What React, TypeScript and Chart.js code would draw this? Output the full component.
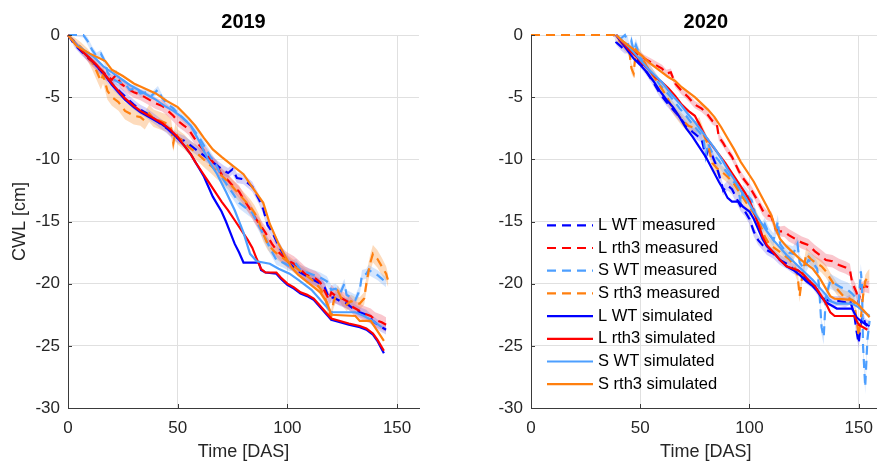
import React, { useEffect, useRef } from 'react';
import { Chart, registerables } from 'chart.js';

Chart.register(...registerables);

type Meas = [number, number, number][];
type Sim = [number, number][];

// ---------- axis ticks / labels ----------
const X_TICKS = [0, 50, 100, 150];
const Y_TICKS = [0, -5, -10, -15, -20, -25, -30];
const PANEL_TITLES = ['2019', '2020'];
const X_TITLE = 'Time [DAS]';
const Y_TITLE = 'CWL [cm]';
const LEGEND_LABELS = [
  'L WT measured',
  'L rth3 measured',
  'S WT measured',
  'S rth3 measured',
  'L WT simulated',
  'L rth3 simulated',
  'S WT simulated',
  'S rth3 simulated',
];

// ---------- 2019 measured: [DAS, CWL, SE] ----------
const LWT_MEAS_2019: Meas = [
  [0, 0, 0.05], [3, -0.8, 0.2], [6, -1.3, 0.3], [9, -1.8, 0.3], [12, -2.3, 0.3], [15, -2.9, 0.35], [18, -3.5, 0.35],
  [21, -4.1, 0.4], [24, -4.6, 0.4], [27, -5.1, 0.4], [30, -5.6, 0.4], [33, -6, 0.4], [36, -6.3, 0.4], [39, -6.7, 0.4],
  [42, -7.1, 0.4], [45, -7.5, 0.4], [48, -8, 0.4], [50, -8.3, 0.4], [53, -8.5, 0.4], [56, -8.9, 0.4], [59, -9.3, 0.4],
  [62, -9.7, 0.4], [65, -10.1, 0.4], [68, -10.5, 0.4], [71, -10.9, 0.4], [73, -11.1, 0.4], [75, -10.8, 0.4],
  [77, -11.5, 0.4], [80, -11.6, 0.4], [84, -12.2, 0.4], [87, -13.2, 0.4], [89, -14, 0.4], [91, -15.3, 0.4],
  [93, -15.8, 0.4], [95, -16.6, 0.4], [98, -17.6, 0.4], [100, -18.2, 0.4], [103, -18.7, 0.4], [106, -19.1, 0.4],
  [109, -19.4, 0.4], [112, -19.7, 0.4], [115, -20, 0.4], [117, -20.3, 0.4], [119, -21.2, 0.4], [121, -21.1, 0.4],
  [124, -21.4, 0.4], [127, -21.6, 0.4], [130, -22, 0.4], [133, -22.3, 0.4], [136, -22.5, 0.4], [139, -23, 0.4],
  [142, -23.4, 0.4], [145, -23.7, 0.4],
];
const LR3_MEAS_2019: Meas = [
  [0, 0, 0.05], [3, -0.6, 0.2], [6, -1.2, 0.3], [10, -2, 0.35], [13, -2.5, 0.4], [15, -2.8, 0.4], [18, -3.3, 0.4],
  [20, -3.6, 0.4], [22, -3.2, 0.4], [24, -3.9, 0.4], [27, -4.3, 0.4], [30, -4.6, 0.45], [33, -4.8, 0.45],
  [35, -5, 0.45], [38, -5.3, 0.45], [40, -5.5, 0.45], [43, -5.7, 0.45], [45, -6, 0.45], [48, -6.5, 0.45],
  [50, -6.9, 0.45], [53, -7.3, 0.45], [55, -7.6, 0.45], [58, -8.4, 0.45], [60, -8.9, 0.45], [63, -9.5, 0.45],
  [65, -10, 0.45], [68, -10.6, 0.45], [70, -11.2, 0.45], [73, -11.7, 0.45], [75, -12.1, 0.45], [78, -12.6, 0.5],
  [80, -13.2, 0.5], [83, -14, 0.5], [85, -14.6, 0.5], [88, -15.4, 0.5], [90, -15.9, 0.5], [93, -16.8, 0.5],
  [95, -17.3, 0.55], [98, -17.8, 0.6], [100, -18.1, 0.6], [103, -18.4, 0.6], [105, -18.7, 0.6], [108, -19.2, 0.6],
  [110, -19.4, 0.6], [113, -19.6, 0.6], [115, -19.9, 0.6], [117, -20.6, 0.6], [119, -21.3, 0.6], [120, -20.7, 0.6],
  [122, -21, 0.6], [125, -21.2, 0.6], [128, -21.5, 0.6], [130, -21.9, 0.6], [133, -22.2, 0.6], [135, -22.4, 0.6],
  [138, -22.6, 0.6], [140, -22.9, 0.6], [143, -23.1, 0.6], [145, -23.3, 0.6],
];
const SWT_MEAS_2019: Meas = [
  [0, 0, 0.05], [3, 0, 0.1], [7, 0, 0.2], [9, -0.5, 0.3], [11, -1.2, 0.3], [13, -1.7, 0.3], [15, -1.5, 0.3],
  [17, -2.2, 0.3], [18, -3, 0.3], [20, -3.5, 0.3], [23, -3.8, 0.3], [26, -3.9, 0.3], [28, -4.4, 0.3],
  [31, -4.3, 0.3], [33, -4.7, 0.3], [36, -4.6, 0.3], [38, -4.9, 0.3], [41, -4.4, 0.3], [43, -5.1, 0.3],
  [45, -5.5, 0.3], [48, -5.9, 0.3], [50, -6.3, 0.3], [53, -6.8, 0.3], [55, -7.1, 0.3], [58, -7.8, 0.35],
  [60, -8.3, 0.35], [63, -9.2, 0.4], [65, -9.8, 0.4], [68, -10.6, 0.4], [70, -11.4, 0.4], [73, -12.2, 0.45],
  [75, -12.7, 0.45], [78, -13.5, 0.45], [81, -13.9, 0.45], [84, -14.3, 0.45], [86, -15, 0.45], [89, -16, 0.45],
  [92, -17.1, 0.45], [95, -18.1, 0.4], [98, -18.3, 0.4], [101, -18.6, 0.4], [104, -18.4, 0.4], [106, -18.9, 0.4],
  [109, -19.1, 0.4], [112, -19.3, 0.4], [115, -19.5, 0.4], [118, -19.8, 0.4], [120, -20.5, 0.4], [122, -20.4, 0.4],
  [124, -20.8, 0.4], [126, -20, 0.4], [127, -20.9, 0.4], [129, -21.1, 0.4], [131, -21.3, 0.4], [133, -20.5, 0.4],
  [134, -19.3, 0.4], [136, -19.2, 0.4], [137, -18.9, 0.4], [139, -19.1, 0.4], [141, -19.3, 0.4], [143, -19.6, 0.4],
  [145, -19.9, 0.4],
];
const SR3_MEAS_2019: Meas = [
  [0, 0, 0.05], [3, -0.5, 0.3], [6, -1, 0.4], [9, -1.6, 0.5], [11, -2.2, 0.6], [13, -2.9, 0.7], [15, -3.7, 0.7],
  [16, -3.2, 0.7], [18, -4.5, 0.7], [20, -5, 0.7], [23, -5.4, 0.7], [26, -6.1, 0.7], [28, -6.3, 0.7],
  [30, -6.5, 0.7], [33, -6.6, 0.7], [35, -6.9, 0.7], [37, -6.3, 0.7], [39, -6.7, 0.7], [42, -6.9, 0.7],
  [45, -7.1, 0.7], [47, -7.5, 0.7], [48, -8.7, 0.7], [49, -7.8, 0.7], [50, -8.2, 0.6], [53, -8.6, 0.6],
  [55, -9, 0.6], [58, -9.4, 0.6], [60, -9.7, 0.6], [63, -10.2, 0.6], [65, -10.5, 0.6], [68, -11, 0.6],
  [70, -11.3, 0.6], [73, -11.8, 0.6], [75, -12.2, 0.6], [78, -12.8, 0.6], [80, -13.2, 0.6], [83, -13.8, 0.6],
  [85, -14.3, 0.6], [87, -15, 0.6], [89, -16, 0.6], [91, -16.8, 0.5], [94, -17.4, 0.5], [97, -17.8, 0.5],
  [100, -18.2, 0.5], [103, -18.6, 0.5], [106, -19, 0.5], [109, -19.4, 0.5], [112, -19.8, 0.5], [115, -20.4, 0.5],
  [117, -21, 0.5], [119, -22.3, 0.5], [120, -22.6, 0.5], [121, -21.5, 0.5], [123, -20.6, 0.5], [125, -21.3, 0.5],
  [127, -21.7, 0.5], [129, -21.4, 0.5], [131, -21.6, 0.5], [133, -21.6, 0.5], [135, -21.2, 0.5], [136, -20, 0.6],
  [137, -19, 0.7], [138, -18.2, 0.7], [139, -17.6, 0.7], [141, -18, 0.7], [143, -18.6, 0.7], [145, -19.2, 0.6],
  [146, -19.8, 0.5],
];

// ---------- 2019 simulated: [DAS, CWL] ----------
const LWT_SIM_2019: Sim = [
  [0, 0], [3, -0.6], [6, -1.2], [10, -1.9], [13, -2.5], [16, -3], [20, -4], [23, -4.6], [26, -5.2], [30, -5.8],
  [33, -6.2], [36, -6.5], [40, -6.9], [43, -7.2], [46, -7.6], [50, -8.3], [53, -8.9], [56, -9.6], [58, -10.2],
  [60, -10.8], [62, -11.4], [64, -12.2], [66, -13], [68, -13.6], [70, -14.2], [72, -15], [74, -15.9], [76, -16.8],
  [78, -17.5], [80, -18.3], [87, -18.3], [88, -18.9], [90, -19.1], [95, -19.2], [97, -19.6], [100, -20.1],
  [103, -20.4], [106, -20.8], [109, -21], [112, -21.3], [114, -21.7], [116, -22.1], [118, -22.5], [120, -22.9],
  [124, -23.1], [128, -23.3], [133, -23.5], [136, -23.7], [139, -24.1], [141, -24.6], [144, -25.6],
];
const LR3_SIM_2019: Sim = [
  [0, 0], [3, -0.6], [6, -1.2], [10, -1.9], [13, -2.4], [16, -3], [20, -3.9], [23, -4.5], [26, -5.1], [30, -5.7],
  [33, -6.1], [36, -6.4], [40, -6.8], [43, -7.1], [46, -7.5], [50, -8.2], [53, -8.9], [56, -9.6], [58, -10.2],
  [61, -11], [64, -11.8], [67, -12.6], [70, -13.4], [73, -14.1], [76, -14.9], [79, -15.7], [82, -16.5],
  [84, -17.1], [86, -18], [88, -18.8], [90, -19.1], [95, -19.1], [97, -19.5], [100, -20], [103, -20.3],
  [106, -20.7], [109, -20.9], [112, -21.2], [114, -21.6], [116, -22], [118, -22.4], [120, -22.8], [124, -23],
  [128, -23.2], [133, -23.4], [136, -23.6], [139, -24], [141, -24.5], [144, -25.4],
];
const SWT_SIM_2019: Sim = [
  [0, 0], [4, -0.8], [8, -1.3], [12, -1.8], [16, -2.5], [20, -3], [24, -3.5], [28, -4], [32, -4.4], [36, -4.8],
  [40, -5.2], [44, -5.7], [48, -6.1], [52, -6.6], [56, -7.3], [60, -8.6], [64, -10.1], [68, -11.2], [72, -12.6],
  [76, -14.1], [80, -15.9], [83, -17.6], [86, -18.2], [92, -18.4], [96, -18.8], [101, -19.2], [105, -19.7],
  [111, -20.5], [116, -21.5], [120, -22.3], [131, -22.3], [135, -22.6], [139, -23], [143, -23.5],
];
const SR3_SIM_2019: Sim = [
  [0, 0], [4, -0.9], [10, -1.5], [17, -2.1], [20, -2.8], [25, -3.3], [30, -3.9], [35, -4.3], [40, -4.7],
  [45, -5.3], [50, -5.8], [55, -6.7], [58, -7.3], [62, -8.3], [66, -9.2], [70, -9.8], [75, -10.5], [80, -11.2],
  [85, -12.5], [89, -13.5], [92, -15.2], [96, -16.8], [99, -17.8], [102, -18.7], [105, -19.3], [110, -20],
  [115, -20.7], [118, -21.5], [120, -22.5], [131, -22.6], [133, -23], [138, -23], [141, -23.8], [144, -24.6],
];

// ---------- 2020 measured: [DAS, CWL, SE] ----------
const LWT_MEAS_2020: Meas = [
  [0, 0, 0], [38, 0, 0], [39, -0.6, 0.2], [41, -0.9, 0.3], [43, -1.2, 0.3], [45, -1.1, 0.3], [47, -1.5, 0.3],
  [50, -2.3, 0.3], [53, -3, 0.3], [56, -3.8, 0.3], [59, -4.7, 0.3], [62, -5.4, 0.3], [65, -6, 0.3],
  [68, -6.6, 0.35], [71, -7.3, 0.35], [74, -7.8, 0.35], [76, -8.1, 0.35], [78, -8.3, 0.35], [80, -9.8, 0.4],
  [81, -9.3, 0.4], [83, -9.7, 0.4], [85, -10.6, 0.4], [87, -11.8, 0.4], [88, -12.5, 0.4], [90, -12.1, 0.4],
  [92, -12.4, 0.4], [94, -13.1, 0.4], [96, -13.8, 0.4], [98, -14.2, 0.4], [100, -14.8, 0.4], [102, -15.8, 0.4],
  [104, -16.5, 0.4], [106, -16.9, 0.4], [108, -17.3, 0.4], [111, -17.6, 0.4], [114, -18.1, 0.4],
  [117, -18.4, 0.4], [120, -18.8, 0.4], [123, -19, 0.4], [126, -19.6, 0.4], [129, -20, 0.4], [131, -20.5, 0.4],
  [133, -21.1, 0.4], [135, -21.3, 0.4], [138, -21.4, 0.4], [141, -21.4, 0.4], [144, -21.5, 0.4],
  [146, -21.3, 0.4], [148, -22.5, 0.4], [149, -23.8, 0.4], [150, -24.8, 0.4], [151, -23.2, 0.4],
  [152, -22.6, 0.4], [153, -23.2, 0.4], [155, -23.4, 0.4],
];
const LR3_MEAS_2020: Meas = [
  [0, 0, 0], [38, 0, 0], [40, -0.3, 0.2], [43, -0.8, 0.3], [46, -1.2, 0.3], [49, -1.6, 0.3], [52, -1.9, 0.3],
  [55, -2.2, 0.3], [58, -2.5, 0.3], [60, -2.7, 0.3], [62, -3.1, 0.3], [64, -3, 0.3], [66, -3.9, 0.3],
  [69, -4.5, 0.3], [72, -5, 0.3], [75, -5.6, 0.3], [78, -5.9, 0.3], [80, -6.2, 0.3], [83, -6.9, 0.3],
  [85, -7.1, 0.3], [86, -8.2, 0.3], [88, -8.7, 0.3], [90, -9.3, 0.3], [92, -9.8, 0.3], [95, -10.9, 0.3],
  [97, -11.5, 0.3], [100, -12.2, 0.3], [103, -13.1, 0.35], [106, -14.1, 0.4], [108, -14.5, 0.4],
  [110, -14.6, 0.4], [112, -15.6, 0.4], [114, -15.8, 0.4], [116, -15.8, 0.45], [118, -16.1, 0.5],
  [121, -16.4, 0.5], [124, -16.7, 0.5], [127, -16.9, 0.5], [130, -17.4, 0.5], [133, -17.8, 0.5],
  [135, -18.1, 0.5], [138, -18.2, 0.5], [141, -18.5, 0.5], [144, -18.7, 0.5], [146, -18.9, 0.5],
  [147, -19.9, 0.5], [149, -20.7, 0.5], [150, -21.5, 0.5], [151, -20.4, 0.5], [153, -20.2, 0.5],
  [155, -20.3, 0.5],
];
const SWT_MEAS_2020: Meas = [
  [0, 0, 0], [38, 0, 0], [41, -0.3, 0.3], [43, 0, 0.4], [44, -0.4, 0.5], [45, -1.2, 0.5], [46, -0.5, 0.5],
  [47, -1.3, 0.5], [48, -0.8, 0.5], [50, -1.8, 0.5], [53, -2.6, 0.5], [56, -3.3, 0.5], [59, -4, 0.5],
  [62, -4.6, 0.5], [65, -5.2, 0.5], [68, -5.9, 0.5], [71, -6.5, 0.5], [74, -7.2, 0.5], [77, -7.8, 0.5],
  [79, -8.3, 0.5], [80, -9.7, 0.5], [81, -8.7, 0.5], [83, -9.5, 0.5], [86, -10.1, 0.5], [89, -10.9, 0.5],
  [92, -11.6, 0.5], [95, -12.4, 0.5], [96, -13.6, 0.5], [97, -12.5, 0.5], [99, -12.9, 0.5], [101, -13.3, 0.5],
  [103, -14.6, 0.5], [105, -15.8, 0.5], [107, -15.2, 0.5], [109, -16, 0.5], [111, -16.5, 0.55],
  [113, -15, 0.55], [114, -16.8, 0.55], [116, -17.3, 0.6], [118, -17.5, 0.6], [120, -17.6, 0.6],
  [122, -16.8, 0.6], [123, -18.3, 0.6], [125, -18.8, 0.6], [127, -18.1, 0.6], [129, -18.3, 0.6],
  [131, -18.8, 0.6], [132, -20.5, 0.6], [133, -23.5, 0.6], [134, -24.3, 0.6], [135, -21, 0.6],
  [137, -19.8, 0.6], [139, -20, 0.6], [142, -20.3, 0.6], [145, -20.5, 0.6], [147, -20.8, 0.6],
  [149, -21.2, 0.6], [150, -21.5, 0.6], [151, -19, 0.6], [151.5, -20, 0.6], [152, -25, 0.6], [153, -28.3, 0.6],
  [154, -24.5, 0.6], [155, -23, 0.6],
];
const SR3_MEAS_2020: Meas = [
  [0, 0, 0], [38, 0, 0], [40, -0.4, 0.3], [43, -0.9, 0.4], [45, -1.3, 0.4], [46, -2.7, 0.4], [47, -3.1, 0.4],
  [48, -1.2, 0.4], [50, -1.6, 0.4], [53, -2.5, 0.5], [56, -3.3, 0.5], [59, -4.1, 0.5], [62, -4.9, 0.5],
  [64, -5.6, 0.5], [66, -6.1, 0.5], [69, -6.8, 0.5], [72, -7.3, 0.5], [75, -7.5, 0.5], [77, -7.1, 0.5],
  [79, -8, 0.5], [81, -8.8, 0.5], [83, -10.3, 0.5], [85, -10.7, 0.5], [88, -11.1, 0.5], [90, -11.4, 0.5],
  [93, -12, 0.5], [96, -12.8, 0.5], [99, -13.6, 0.5], [101, -14.1, 0.5], [103, -14.6, 0.5], [105, -15.3, 0.5],
  [107, -16.2, 0.5], [109, -16.8, 0.5], [112, -17.2, 0.5], [115, -17.6, 0.5], [118, -18, 0.5],
  [120, -18.4, 0.5], [122, -19.3, 0.5], [123, -21, 0.5], [124, -19.6, 0.5], [125, -18.6, 0.5],
  [126, -17.6, 0.5], [128, -18, 0.5], [130, -18.3, 0.5], [133, -18.6, 0.5], [135, -19, 0.5], [137, -19.6, 0.5],
  [140, -20.4, 0.5], [143, -21, 0.5], [146, -21.2, 0.5], [148, -21.5, 0.5], [150, -24.2, 0.5],
  [151, -22.8, 0.5], [152, -21, 0.5], [153, -19.8, 0.5], [154, -19.5, 0.5], [155, -19.3, 0.5],
];

// ---------- 2020 simulated: [DAS, CWL] ----------
const LWT_SIM_2020: Sim = [
  [39, 0], [41, -0.5], [44, -1.2], [47, -1.9], [50, -2.4], [53, -3], [56, -3.7], [59, -4.5], [62, -5.2],
  [65, -5.8], [68, -6.6], [71, -7.5], [74, -8.2], [77, -9], [80, -9.8], [83, -10.8], [86, -11.8], [88, -12.4],
  [90, -13.1], [92, -13.4], [95, -13.4], [97, -13.8], [100, -14.2], [102, -14.8], [104, -15.6], [106, -16.4],
  [108, -17], [111, -17.5], [114, -18.1], [117, -18.6], [120, -18.9], [123, -19.3], [126, -19.8], [129, -20.2],
  [131, -20.6], [133, -21.1], [135, -21.5], [138, -21.8], [140, -22], [147, -22], [149, -22.7], [151, -23],
  [154, -23.4],
];
const LR3_SIM_2020: Sim = [
  [39, 0], [42, -0.6], [45, -1.2], [48, -1.7], [51, -2.3], [54, -2.8], [57, -3.4], [60, -3.8], [63, -4.3],
  [66, -4.9], [69, -5.6], [72, -6.1], [75, -6.5], [78, -7.5], [80, -8.2], [83, -8.9], [86, -9.6], [89, -10.3],
  [92, -11.1], [95, -11.9], [98, -12.7], [100, -13.3], [102, -14.2], [104, -15.2], [106, -16.2], [108, -16.9],
  [111, -17.5], [114, -18.1], [117, -18.6], [120, -18.8], [122, -18.9], [125, -19.3], [127, -19.7], [130, -20.2],
  [133, -21], [135, -21.6], [137, -22.3], [139, -22.6], [148, -22.6], [150, -23.3], [152, -23.5], [154, -23.7],
];
const SWT_SIM_2020: Sim = [
  [39, 0], [42, -0.5], [45, -1], [48, -1.6], [51, -2.2], [54, -2.8], [57, -3.3], [60, -3.8], [63, -4.5],
  [66, -5.1], [69, -5.7], [72, -6.4], [75, -7], [78, -7.7], [81, -8.4], [84, -9.1], [87, -9.9], [90, -10.8],
  [93, -11.6], [96, -12.5], [99, -13.3], [102, -14.2], [105, -15], [108, -15.8], [111, -16.5], [114, -17.1],
  [117, -17.7], [120, -18.2], [123, -18.7], [126, -19.2], [129, -19.7], [132, -20.3], [135, -20.9],
  [137, -21.4], [140, -21.6], [147, -21.6], [150, -21.9], [152, -22.2], [155, -22.6],
];
const SR3_SIM_2020: Sim = [
  [39, 0], [42, -0.5], [45, -0.9], [48, -1.3], [51, -1.7], [54, -2.2], [57, -2.6], [60, -3], [63, -3.4],
  [66, -3.7], [69, -4.2], [72, -4.6], [75, -5], [78, -5.5], [81, -6], [84, -6.6], [87, -7.4], [90, -8.3],
  [93, -9.2], [96, -10.2], [99, -11], [102, -11.8], [105, -12.8], [108, -13.8], [110, -14.5], [112, -15.6],
  [114, -16.4], [117, -17], [120, -17.5], [123, -18], [126, -18.4], [129, -18.8], [132, -19.5], [135, -20.4],
  [137, -21], [139, -21.2], [147, -21.3], [150, -21.7], [152, -22.1], [155, -22.7],
];

// ---------- styles ----------
const LINE_COLORS = ['#0000ff', '#ff0000', '#4d9fff', '#ff7f0e'];
const BAND_COLORS = [
  'rgba(120, 105, 235, 0.30)',
  'rgba(240, 95, 115, 0.35)',
  'rgba(120, 175, 250, 0.32)',
  'rgba(250, 160, 80, 0.38)',
];
const AXIS_COLOR = '#3a3a3a';
const GRID_COLOR = '#e0e0e0';
const TEXT_COLOR = '#262626';
const FONT = '"Liberation Sans", Arial, Helvetica, sans-serif';
const DASH = [9, 6];
const LINE_W = 2.2;
const CLIP = { left: 3, top: 3, right: 3, bottom: 3 };

Chart.defaults.font.family = FONT;

function buildDatasets(meas: Meas[], sim: Sim[]) {
  const ds: any[] = [];
  meas.forEach((m, i) => {
    ds.push({
      data: m.map((p) => ({ x: p[0], y: p[1] + p[2] })),
      fill: '+1',
      backgroundColor: BAND_COLORS[i],
      borderColor: 'rgba(0,0,0,0)',
      borderWidth: 0,
      pointRadius: 0,
      order: 40 + i * 2,
    });
    ds.push({
      data: m.map((p) => ({ x: p[0], y: p[1] - p[2] })),
      fill: false,
      borderColor: 'rgba(0,0,0,0)',
      borderWidth: 0,
      pointRadius: 0,
      order: 41 + i * 2,
    });
  });
  meas.forEach((m, i) => {
    ds.push({
      label: LEGEND_LABELS[i],
      legendIndex: i,
      data: m.map((p) => ({ x: p[0], y: p[1] })),
      borderColor: LINE_COLORS[i],
      borderWidth: LINE_W,
      borderDash: DASH,
      pointRadius: 0,
      fill: false,
      clip: CLIP,
      order: 20 - i,
    });
  });
  sim.forEach((s, i) => {
    ds.push({
      label: LEGEND_LABELS[4 + i],
      legendIndex: 4 + i,
      data: s.map((p) => ({ x: p[0], y: p[1] })),
      borderColor: LINE_COLORS[i],
      borderWidth: LINE_W,
      pointRadius: 0,
      fill: false,
      clip: CLIP,
      order: 10 - i,
    });
  });
  return ds;
}

const tickMarks = {
  id: 'tickMarks',
  afterDatasetsDraw(chart: any) {
    const { ctx, chartArea: a, scales } = chart;
    ctx.save();
    ctx.strokeStyle = AXIS_COLOR;
    ctx.lineWidth = 1;
    ctx.setLineDash([]);
    ctx.beginPath();
    scales.x.ticks.forEach((t: any) => {
      const px = Math.round(scales.x.getPixelForValue(t.value)) + 0.5;
      ctx.moveTo(px, a.bottom);
      ctx.lineTo(px, a.bottom - 4);
    });
    scales.y.ticks.forEach((t: any) => {
      const py = Math.round(scales.y.getPixelForValue(t.value)) + 0.5;
      ctx.moveTo(a.left, py);
      ctx.lineTo(a.left + 4, py);
    });
    ctx.stroke();
    ctx.restore();
  },
};

const inlineLegend = {
  id: 'inlineLegend',
  afterDraw(chart: any, _args: any, opts: any) {
    if (!opts || !opts.display) return;
    const { ctx, chartArea: a } = chart;
    const items = chart.data.datasets
      .filter((d: any) => typeof d.legendIndex === 'number')
      .sort((p: any, q: any) => p.legendIndex - q.legendIndex);
    ctx.save();
    ctx.font = `${opts.fontSize}px ${FONT}`;
    ctx.textBaseline = 'middle';
    ctx.textAlign = 'left';
    items.forEach((d: any, i: number) => {
      const y = a.top + opts.top + i * opts.rowGap;
      const x0 = a.left + opts.left;
      ctx.strokeStyle = d.borderColor;
      ctx.lineWidth = LINE_W;
      ctx.setLineDash(d.borderDash || []);
      ctx.beginPath();
      ctx.moveTo(x0, y);
      ctx.lineTo(x0 + opts.lineLen, y);
      ctx.stroke();
      ctx.setLineDash([]);
      ctx.fillStyle = '#000';
      ctx.fillText(d.label, x0 + opts.lineLen + opts.gap, y);
    });
    ctx.restore();
  },
};

function makeConfig(idx: number, meas: Meas[], sim: Sim[], yWidth: number, padRight: number, first: boolean): any {
  return {
    type: 'line',
    data: { datasets: buildDatasets(meas, sim) },
    options: {
      animation: false,
      responsive: false,
      devicePixelRatio: 1,
      events: [],
      layout: { padding: { left: 0, right: padRight, top: 0, bottom: 0 } },
      plugins: {
        legend: { display: false },
        tooltip: { enabled: false },
        title: {
          display: true,
          fullSize: false,
          text: PANEL_TITLES[idx],
          color: '#000',
          font: { size: 20, weight: 'bold', lineHeight: 1.2 },
          padding: { top: 10.5, bottom: 0.5 },
        },
        inlineLegend: {
          display: !first,
          top: 190.3,
          rowGap: 22.7,
          left: 16,
          lineLen: 46,
          gap: 5,
          fontSize: 16.5,
        },
      },
      scales: {
        x: {
          type: 'linear',
          min: 0,
          max: 160,
          afterBuildTicks: (s: any) => {
            s.ticks = X_TICKS.map((v) => ({ value: v }));
          },
          afterFit: (s: any) => {
            s.height = 53;
          },
          grid: { color: GRID_COLOR, drawTicks: false, lineWidth: 1 },
          border: { display: true, color: AXIS_COLOR, width: 1 },
          ticks: { padding: 10, color: TEXT_COLOR, font: { size: 17 }, maxRotation: 0, autoSkip: false },
          title: {
            display: true,
            text: X_TITLE,
            color: TEXT_COLOR,
            font: { size: 18, lineHeight: 1 },
            padding: { top: 0, bottom: 0.3 },
          },
        },
        y: {
          type: 'linear',
          min: -30,
          max: 0,
          afterBuildTicks: (s: any) => {
            s.ticks = Y_TICKS.map((v) => ({ value: v }));
          },
          afterFit: (s: any) => {
            s.width = yWidth;
          },
          grid: { color: GRID_COLOR, drawTicks: false, lineWidth: 1 },
          border: { display: true, color: AXIS_COLOR, width: 1 },
          ticks: { padding: 8, color: TEXT_COLOR, font: { size: 17 }, autoSkip: false },
          title: {
            display: first,
            text: Y_TITLE,
            color: TEXT_COLOR,
            font: { size: 18, lineHeight: 1 },
            padding: { top: 11, bottom: 0 },
          },
        },
      },
    },
    plugins: [tickMarks, inlineLegend],
  };
}

export default function App() {
  const leftRef = useRef<HTMLCanvasElement>(null);
  const rightRef = useRef<HTMLCanvasElement>(null);

  useEffect(() => {
    const charts: Chart[] = [];
    if (leftRef.current) {
      charts.push(
        new Chart(
          leftRef.current,
          makeConfig(0, [LWT_MEAS_2019, LR3_MEAS_2019, SWT_MEAS_2019, SR3_MEAS_2019],
            [LWT_SIM_2019, LR3_SIM_2019, SWT_SIM_2019, SR3_SIM_2019], 68, 21, true)
        )
      );
    }
    if (rightRef.current) {
      charts.push(
        new Chart(
          rightRef.current,
          makeConfig(1, [LWT_MEAS_2020, LR3_MEAS_2020, SWT_MEAS_2020, SR3_MEAS_2020],
            [LWT_SIM_2020, LR3_SIM_2020, SWT_SIM_2020, SR3_SIM_2020], 91, 0, false)
        )
      );
    }
    return () => charts.forEach((c) => c.destroy());
  }, []);

  return (
    <div
      style={{
        position: 'fixed',
        left: 0,
        top: 0,
        width: 877,
        height: 461,
        overflow: 'hidden',
        background: '#fff',
      }}
    >
      <canvas ref={leftRef} width={440} height={461} style={{ position: 'absolute', left: 0, top: 0, width: 440, height: 461 }} />
      <canvas ref={rightRef} width={443} height={461} style={{ position: 'absolute', left: 440, top: 0, width: 443, height: 461 }} />
    </div>
  );
}
